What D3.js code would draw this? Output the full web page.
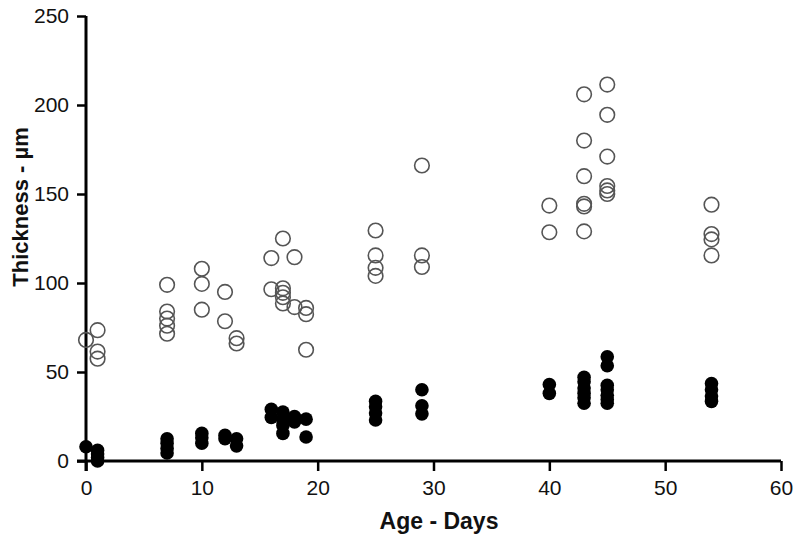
<!DOCTYPE html>
<html>
<head>
<meta charset="utf-8">
<script src="https://cdn.jsdelivr.net/npm/d3@7"></script>
<style>
  html, body { margin: 0; padding: 0; background: #fff; }
  svg { display: block; font-family: "Liberation Sans", Arial, sans-serif; }
</style>
</head>
<body>
<svg id="chart" width="800" height="545"></svg>
<script>
// ---- Data ----
const xTicks = [0, 10, 20, 30, 40, 50, 60];
const yTicks = [0, 50, 100, 150, 200, 250];
const xLabel = "Age - Days";
const yLabel = "Thickness - µm";

// Open circles: total thickness
const openDays = [0, 1, 1, 1, 7, 7, 7, 7, 7, 10, 10, 10, 12, 12, 13, 13,
  16, 16, 17, 17, 17, 17, 17, 18, 18, 19, 19, 19,
  25, 25, 25, 25, 29, 29, 29, 40, 40,
  43, 43, 43, 43, 43, 43, 45, 45, 45, 45, 45, 45, 54, 54, 54, 54];
const openValues = [68, 73.5, 61.5, 57.5, 99, 84, 80, 76, 71.5, 108, 99.5, 85, 95, 78.5, 69, 66,
  114, 96.5, 125, 97, 94.5, 92, 88.5, 114.5, 86.5, 86, 82.5, 62.5,
  129.5, 115.5, 108.5, 104, 166, 115.5, 109, 143.5, 128.5,
  206, 180, 160, 144.5, 143, 129, 211.5, 194.5, 171, 154.5, 152, 150, 144, 127.5, 124.5, 115.5];

// Filled circles: layer thickness
const filledDays = [0, 1, 1, 1, 1, 7, 7, 7, 7, 10, 10, 10, 12, 12, 13, 13,
  16, 16, 17, 17, 17, 17, 18, 18, 19, 19,
  25, 25, 25, 25, 29, 29, 29, 40, 40,
  43, 43, 43, 43, 43, 43, 45, 45, 45, 45, 45, 45, 45, 54, 54, 54, 54];
const filledValues = [8, 6, 4, 2, 0, 12.5, 10, 7, 4.5, 15.5, 13, 10, 14.5, 12.5, 12.5, 8.5,
  29, 24.5, 27.5, 23, 20, 15.5, 25, 22, 23.5, 13.5,
  33.5, 30.5, 27, 23, 40, 31, 26.5, 43, 38,
  47, 44.5, 41, 38, 35.5, 32.5, 58.5, 53.5, 42.5, 40, 37, 34.5, 32.5, 43.5, 40, 36.5, 33.5];

// ---- Drawing ----
const svg = d3.select("#chart");
const x = d3.scaleLinear().domain([0, 60]).range([86, 781]);
const y = d3.scaleLinear().domain([0, 250]).range([461, 16]);

const xAxis = svg.append("g")
  .attr("transform", `translate(0,${y(0)})`)
  .call(d3.axisBottom(x).tickValues(xTicks).tickSize(10).tickPadding(9).tickSizeOuter(0));
const yAxis = svg.append("g")
  .attr("transform", `translate(${x(0)},0)`)
  .call(d3.axisLeft(y).tickValues(yTicks).tickSize(9).tickPadding(8).tickSizeOuter(0));

[xAxis, yAxis].forEach(g => {
  g.select(".domain").attr("stroke", "#000").attr("stroke-width", 3);
  g.selectAll(".tick line").attr("stroke", "#000").attr("stroke-width", 2.5);
  g.selectAll(".tick text").attr("fill", "#111").attr("font-size", 21)
    .attr("font-family", "'Liberation Sans', Arial, sans-serif");
});
// extend domains to overlap the crossing ticks
xAxis.select(".domain").attr("d", `M${x(0) - 9},0H${x(60)}`);
yAxis.select(".domain").attr("d", `M0,${y(250)}V${y(0) + 10}`);

// Open circles
svg.append("g").selectAll("circle")
  .data(openDays.map((d, i) => [d, openValues[i]]))
  .join("circle")
  .attr("cx", d => x(d[0]))
  .attr("cy", d => y(d[1]))
  .attr("r", 7.3)
  .attr("fill", "none")
  .attr("stroke", "#555")
  .attr("stroke-width", 1.6);

// Filled circles
svg.append("g").selectAll("circle")
  .data(filledDays.map((d, i) => [d, filledValues[i]]))
  .join("circle")
  .attr("cx", d => x(d[0]))
  .attr("cy", d => y(d[1]))
  .attr("r", 6.8)
  .attr("fill", "#000");

// Axis titles
svg.append("text")
  .attr("x", 439)
  .attr("y", 529)
  .attr("text-anchor", "middle")
  .attr("font-size", 23)
  .attr("font-weight", "bold")
  .attr("fill", "#111")
  .text(xLabel);

svg.append("text")
  .attr("transform", `translate(22,207) rotate(-90)`)
  .attr("text-anchor", "middle")
  .attr("dominant-baseline", "middle")
  .attr("font-size", 22)
  .attr("font-weight", "bold")
  .attr("fill", "#111")
  .text(yLabel);
</script>
</body>
</html>
